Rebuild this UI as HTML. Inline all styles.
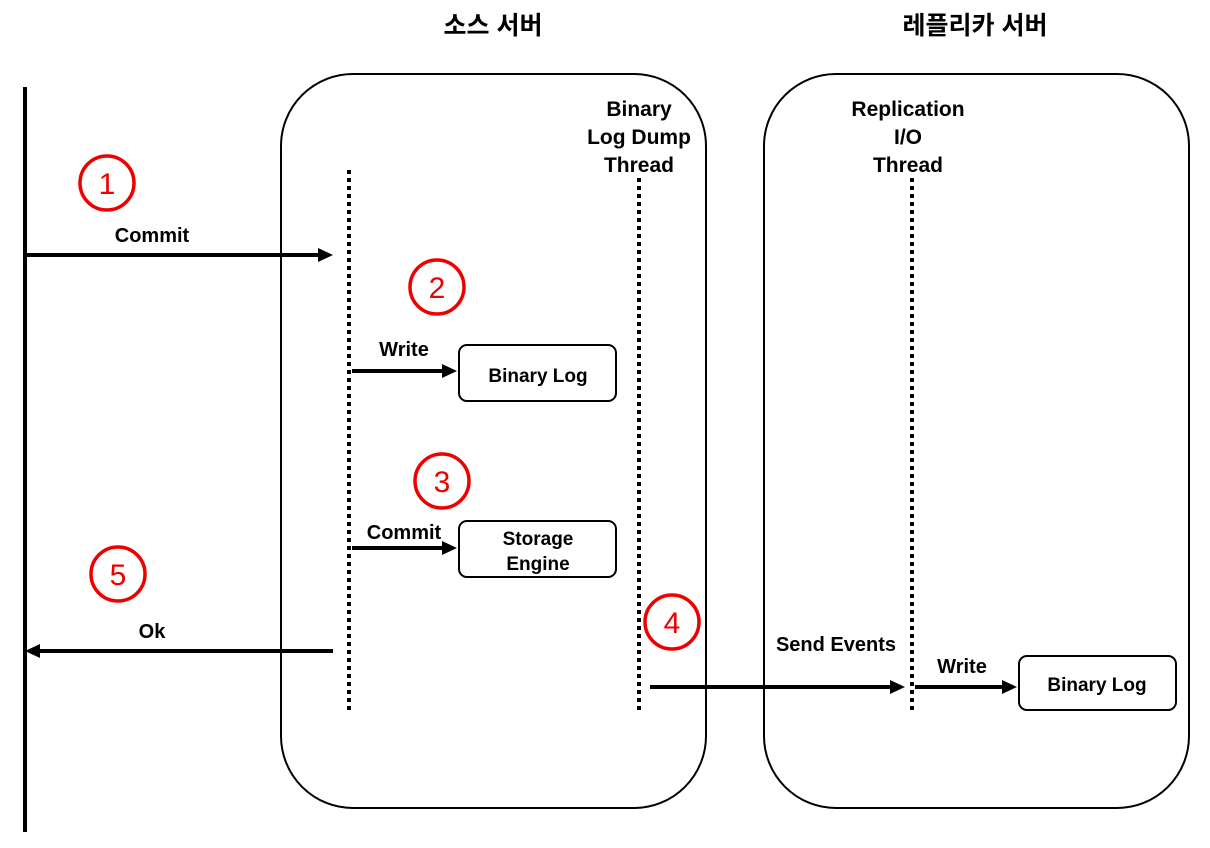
<!DOCTYPE html>
<html><head><meta charset="utf-8"><style>body{margin:0;background:#fff}</style></head><body>
<svg width="1210" height="843" xmlns="http://www.w3.org/2000/svg" font-family="'Liberation Sans','Noto Sans CJK KR',sans-serif" font-weight="bold">
<text x="493" y="34" font-size="25" text-anchor="middle">소스 서버</text>
<text x="975" y="34" font-size="25" text-anchor="middle">레플리카 서버</text>
<line x1="25" y1="87" x2="25" y2="832" stroke="#000" stroke-width="4"/>
<rect x="281" y="74" width="425" height="734" rx="72" fill="none" stroke="#000" stroke-width="2"/>
<rect x="764" y="74" width="425" height="734" rx="72" fill="none" stroke="#000" stroke-width="2"/>
<g stroke="#000" stroke-width="4" stroke-dasharray="4,4">
<line x1="349" y1="170" x2="349" y2="714"/>
<line x1="639" y1="178" x2="639" y2="714"/>
<line x1="912" y1="178" x2="912" y2="714"/>
</g>
<g font-size="21" text-anchor="middle">
<text x="639" y="116">Binary</text><text x="639" y="144">Log Dump</text><text x="639" y="172">Thread</text>
<text x="908" y="116">Replication</text><text x="908" y="144">I/O</text><text x="908" y="172">Thread</text>
</g>
<g stroke="#000" stroke-width="4">
<line x1="27" y1="255" x2="320" y2="255"/>
<line x1="352" y1="371" x2="444" y2="371"/>
<line x1="352" y1="548" x2="444" y2="548"/>
<line x1="333" y1="651" x2="38" y2="651"/>
<line x1="650" y1="687" x2="892" y2="687"/>
<line x1="915" y1="687" x2="1004" y2="687"/>
</g>
<g fill="#000">
<path d="M318,248 L333,255 L318,262 z"/>
<path d="M442,364 L457,371 L442,378 z"/>
<path d="M442,541 L457,548 L442,555 z"/>
<path d="M40,644 L25,651 L40,658 z"/>
<path d="M890,680 L905,687 L890,694 z"/>
<path d="M1002,680 L1017,687 L1002,694 z"/>
</g>
<g font-size="20">
<text x="152" y="242" text-anchor="middle">Commit</text>
<text x="404" y="356" text-anchor="middle">Write</text>
<text x="404" y="539" text-anchor="middle">Commit</text>
<text x="152" y="638" text-anchor="middle">Ok</text>
<text x="836" y="651" text-anchor="middle">Send Events</text>
<text x="962" y="673" text-anchor="middle">Write</text>
</g>
<g fill="#fff" stroke="#000" stroke-width="2">
<rect x="459" y="345" width="157" height="56" rx="8"/>
<rect x="459" y="521" width="157" height="56" rx="8"/>
<rect x="1019" y="656" width="157" height="54" rx="8"/>
</g>
<g font-size="19" text-anchor="middle">
<text x="538" y="382">Binary Log</text>
<text x="538" y="545">Storage</text><text x="538" y="570">Engine</text>
<text x="1097" y="691">Binary Log</text>
</g>
<g fill="none" stroke="#e00" stroke-width="3.5">
<circle cx="107" cy="183" r="27"/><circle cx="437" cy="287" r="27"/><circle cx="442" cy="481" r="27"/><circle cx="118" cy="574" r="27"/><circle cx="672" cy="622" r="27"/>
</g>
<g fill="#e00" font-size="30" font-weight="normal" text-anchor="middle">
<text x="107" y="194">1</text><text x="437" y="298">2</text><text x="442" y="492">3</text><text x="118" y="585">5</text><text x="672" y="633">4</text>
</g>
</svg>
</body></html>
